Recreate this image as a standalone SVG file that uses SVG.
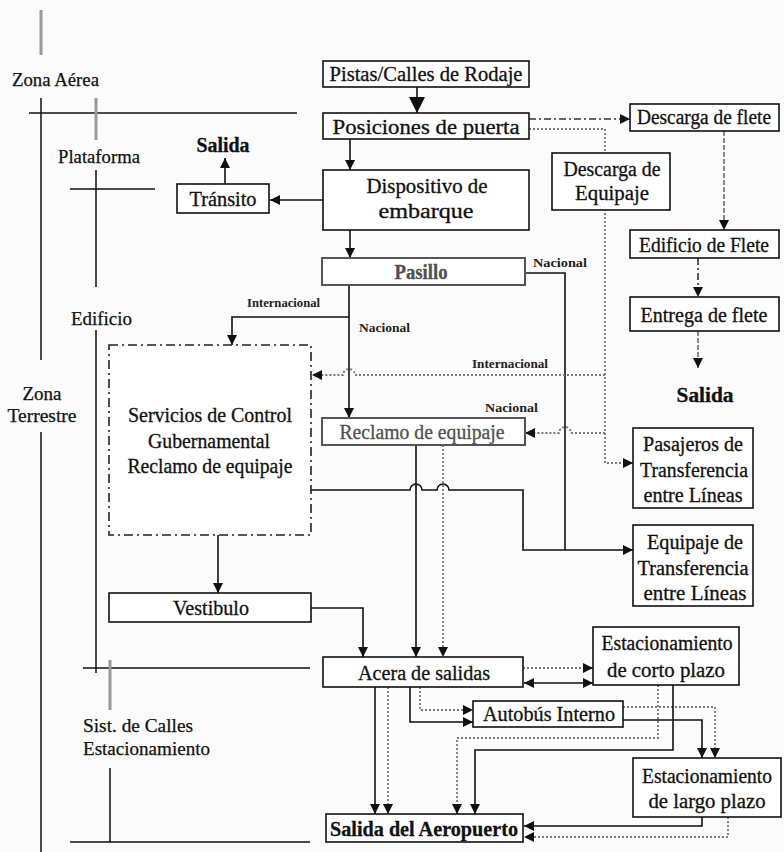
<svg xmlns="http://www.w3.org/2000/svg" width="784" height="852" viewBox="0 0 784 852">
<style>
.bg{fill:#fbfbfb}
.box{fill:#fff;stroke:#111;stroke-width:1.6}
.gbox{fill:#fff;stroke:#555;stroke-width:2}
.ddbox{fill:#fff;stroke:#222;stroke-width:1.6;stroke-dasharray:9 4 2 4}
.t{font-family:"Liberation Serif","Times New Roman",serif;font-size:20px;fill:#111;stroke:#111;stroke-width:0.3;text-anchor:middle}
.tg{fill:#505050;stroke:#505050}
.b{font-weight:bold}
.lb{font-family:"Liberation Serif","Times New Roman",serif;font-size:19px;fill:#111;stroke:#111;stroke-width:0.25}
.sm{font-family:"Liberation Serif","Times New Roman",serif;font-size:13px;font-weight:bold;fill:#222}
.ln{fill:none;stroke:#111;stroke-width:1.6}
.dot{fill:none;stroke:#777;stroke-width:1.8;stroke-dasharray:2 2}
.dd{fill:none;stroke:#333;stroke-width:1.6;stroke-dasharray:7 3 2 3}
.dg{fill:none;stroke:#888;stroke-width:2;stroke-dasharray:5 2}
.zn{stroke:#111;stroke-width:1.5}
.zg{stroke:#999;stroke-width:3}
</style>
<defs>
<marker id="a" viewBox="0 0 10 10" refX="10" refY="5" markerWidth="10" markerHeight="10" markerUnits="userSpaceOnUse" orient="auto-start-reverse"><path d="M0,0 L10,5 L0,10 z" fill="#111"/></marker>
<marker id="A" viewBox="0 0 10 10" refX="10" refY="5" markerWidth="16" markerHeight="16" markerUnits="userSpaceOnUse" orient="auto"><path d="M0,0 L10,5 L0,10 z" fill="#111"/></marker>
</defs>
<rect class="bg" x="0" y="0" width="784" height="852"/>
<g id="zones">
<line class="zg" x1="41" y1="10" x2="41" y2="55"/>
<line class="zn" x1="41" y1="98" x2="41" y2="360"/>
<line class="zn" x1="41" y1="432" x2="41" y2="852"/>
<line class="zn" x1="29" y1="113" x2="297" y2="113"/>
<line class="zg" x1="96" y1="98" x2="96" y2="140"/>
<line class="zn" x1="96" y1="170" x2="96" y2="287"/>
<line class="zn" x1="70" y1="189" x2="155" y2="189"/>
<line class="zn" x1="96" y1="330" x2="96" y2="673"/>
<line class="zn" x1="83" y1="668" x2="310" y2="668"/>
<line class="zg" x1="110" y1="660" x2="110" y2="710"/>
<line class="zn" x1="110" y1="768" x2="110" y2="842"/>
<line class="zn" x1="70" y1="842" x2="310" y2="842"/>
<text class="lb" x="12" y="86" textLength="87" lengthAdjust="spacingAndGlyphs">Zona Aérea</text>
<text class="lb" x="58" y="163" textLength="82" lengthAdjust="spacingAndGlyphs">Plataforma</text>
<text class="lb" x="71" y="325" textLength="61" lengthAdjust="spacingAndGlyphs">Edificio</text>
<text class="lb" x="42" y="400" text-anchor="middle">Zona</text>
<text class="lb" x="42" y="422" text-anchor="middle" textLength="69" lengthAdjust="spacingAndGlyphs">Terrestre</text>
<text class="lb" x="83" y="732" textLength="110" lengthAdjust="spacingAndGlyphs">Sist. de Calles</text>
<text class="lb" x="83" y="755" textLength="127" lengthAdjust="spacingAndGlyphs">Estacionamiento</text>
</g>
<g id="connectors">
<line class="ln" x1="417" y1="87" x2="417" y2="113" marker-end="url(#A)"/>
<line class="ln" x1="350" y1="139" x2="350" y2="170" marker-end="url(#a)"/>
<line class="ln" x1="323" y1="200" x2="270" y2="200" marker-end="url(#a)"/>
<line class="ln" x1="225" y1="184" x2="225" y2="158" marker-end="url(#a)"/>
<line class="ln" x1="350" y1="230" x2="350" y2="258" marker-end="url(#a)"/>
<line class="ln" x1="349" y1="285" x2="349" y2="418" marker-end="url(#a)"/>
<path class="ln" d="M349,317 H232 V345" marker-end="url(#a)"/>
<path class="ln" d="M525,273 H565 V550"/>
<path class="ln" d="M311,490 H410 A6,6 0 0 1 422,490 H437 A6,6 0 0 1 449,490 H523 V550 H633" marker-end="url(#a)"/>
<line class="ln" x1="416" y1="445" x2="416" y2="657" marker-end="url(#a)"/>
<line class="dot" x1="443" y1="445" x2="443" y2="657" marker-end="url(#a)"/>
<line class="ln" x1="218" y1="535" x2="218" y2="593" marker-end="url(#a)"/>
<path class="ln" d="M311,608 H363 V657" marker-end="url(#a)"/>
<line class="dd" x1="529" y1="119" x2="630" y2="119" marker-end="url(#a)"/>
<path class="dot" d="M529,129 H605 V463 H633" marker-end="url(#a)"/>
<path class="dot" d="M605,375 H355 A6,6 0 0 0 343,375 H312" marker-end="url(#a)"/>
<path class="dot" d="M605,433 H571 A6,6 0 0 0 559,433 H525" marker-end="url(#a)"/>
<line class="dg" x1="724" y1="131" x2="724" y2="230" marker-end="url(#a)"/>
<line class="dd" x1="698" y1="258" x2="698" y2="297" marker-end="url(#a)"/>
<line class="dg" x1="698" y1="331" x2="698" y2="368" marker-end="url(#a)"/>
<line class="dot" x1="523" y1="668" x2="593" y2="668" marker-end="url(#a)"/>
<line class="ln" x1="524" y1="683" x2="593" y2="683" marker-start="url(#a)" marker-end="url(#a)"/>
<line class="ln" x1="375" y1="687" x2="375" y2="814" marker-end="url(#a)"/>
<line class="dot" x1="388" y1="687" x2="388" y2="814" marker-end="url(#a)"/>
<path class="ln" d="M410,687 V722 H473" marker-end="url(#a)"/>
<path class="dot" d="M420,687 V710 H473" marker-end="url(#a)"/>
<path class="dot" d="M623,707 H715 V758" marker-end="url(#a)"/>
<path class="ln" d="M623,720 H702 V758" marker-end="url(#a)"/>
<path class="dot" d="M658,685 V738 H457 V814" marker-end="url(#a)"/>
<path class="ln" d="M673,685 V750 H475 V814" marker-end="url(#a)"/>
<path class="ln" d="M702,817 V826 H524" marker-end="url(#a)"/>
<path class="dot" d="M728,817 V837 H524" marker-end="url(#a)"/>
<text class="sm" x="533" y="267" textLength="54" lengthAdjust="spacingAndGlyphs">Nacional</text>
<text class="sm" x="247" y="307" textLength="73" lengthAdjust="spacingAndGlyphs">Internacional</text>
<text class="sm" x="359" y="332" textLength="51" lengthAdjust="spacingAndGlyphs">Nacional</text>
<text class="sm" x="472" y="368" textLength="76" lengthAdjust="spacingAndGlyphs">Internacional</text>
<text class="sm" x="485" y="412" textLength="53" lengthAdjust="spacingAndGlyphs">Nacional</text>
</g>
<g id="pistas"><rect class="box" x="323" y="61" width="206" height="26"/><text class="t" x="426" y="81" textLength="193" lengthAdjust="spacingAndGlyphs">Pistas/Calles de Rodaje</text></g>
<g id="posiciones"><rect class="box" x="323" y="113" width="206" height="26"/><text class="t" x="426" y="134" textLength="187" lengthAdjust="spacingAndGlyphs">Posiciones de puerta</text></g>
<g id="dispositivo"><rect class="box" x="323" y="170" width="206" height="60"/><text class="t" x="427" y="193" textLength="121" lengthAdjust="spacingAndGlyphs">Dispositivo de</text><text class="t" x="426" y="218" textLength="95" lengthAdjust="spacingAndGlyphs">embarque</text></g>
<g id="transito"><rect class="box" x="177" y="184" width="92" height="29"/><text class="t" x="223" y="206" textLength="67" lengthAdjust="spacingAndGlyphs">Tránsito</text></g>
<g id="salida1"><text class="t b" x="223" y="152" textLength="53" lengthAdjust="spacingAndGlyphs">Salida</text></g>
<g id="pasillo"><rect class="gbox" x="322" y="258" width="203" height="27"/><text class="t tg b" x="421" y="279" textLength="53" lengthAdjust="spacingAndGlyphs">Pasillo</text></g>
<g id="servicios"><rect class="ddbox" x="109" y="345" width="202" height="190"/><text class="t" x="210" y="422" textLength="164" lengthAdjust="spacingAndGlyphs">Servicios de Control</text><text class="t" x="209" y="448" textLength="122" lengthAdjust="spacingAndGlyphs">Gubernamental</text><text class="t" x="210" y="473" textLength="165" lengthAdjust="spacingAndGlyphs">Reclamo de equipaje</text></g>
<g id="reclamo"><rect class="gbox" x="322" y="418" width="203" height="27"/><text class="t tg" x="422" y="439" textLength="165" lengthAdjust="spacingAndGlyphs">Reclamo de equipaje</text></g>
<g id="vestibulo"><rect class="box" x="109" y="593" width="202" height="29"/><text class="t" x="211" y="615" textLength="76" lengthAdjust="spacingAndGlyphs">Vestibulo</text></g>
<g id="descarga-flete"><rect class="box" x="630" y="104" width="149" height="27"/><text class="t" x="704" y="124" textLength="134" lengthAdjust="spacingAndGlyphs">Descarga de flete</text></g>
<g id="descarga-equipaje"><rect class="box" x="552" y="153" width="118" height="57"/><text class="t" x="612" y="176" textLength="97" lengthAdjust="spacingAndGlyphs">Descarga de</text><text class="t" x="612" y="200" textLength="74" lengthAdjust="spacingAndGlyphs">Equipaje</text></g>
<g id="edificio-flete"><rect class="box" x="630" y="230" width="149" height="28"/><text class="t" x="704" y="252" textLength="130" lengthAdjust="spacingAndGlyphs">Edificio de Flete</text></g>
<g id="entrega-flete"><rect class="box" x="630" y="297" width="149" height="34"/><text class="t" x="704" y="322" textLength="127" lengthAdjust="spacingAndGlyphs">Entrega de flete</text></g>
<g id="salida2"><text class="t b" x="705" y="402" textLength="57" lengthAdjust="spacingAndGlyphs">Salida</text></g>
<g id="pasajeros"><rect class="box" x="633" y="428" width="120" height="80"/><text class="t" x="693" y="451" textLength="100" lengthAdjust="spacingAndGlyphs">Pasajeros de</text><text class="t" x="694" y="477" textLength="108" lengthAdjust="spacingAndGlyphs">Transferencia</text><text class="t" x="693" y="502" textLength="99" lengthAdjust="spacingAndGlyphs">entre Líneas</text></g>
<g id="equipaje-transf"><rect class="box" x="633" y="525" width="120" height="81"/><text class="t" x="695" y="549" textLength="96" lengthAdjust="spacingAndGlyphs">Equipaje de</text><text class="t" x="693" y="575" textLength="111" lengthAdjust="spacingAndGlyphs">Transferencia</text><text class="t" x="695" y="600" textLength="103" lengthAdjust="spacingAndGlyphs">entre Líneas</text></g>
<g id="acera"><rect class="box" x="323" y="657" width="200" height="30"/><text class="t" x="424" y="680" textLength="132" lengthAdjust="spacingAndGlyphs">Acera de salidas</text></g>
<g id="corto"><rect class="box" x="593" y="627" width="146" height="58"/><text class="t" x="667" y="650" textLength="131" lengthAdjust="spacingAndGlyphs">Estacionamiento</text><text class="t" x="666" y="677" textLength="118" lengthAdjust="spacingAndGlyphs">de corto plazo</text></g>
<g id="autobus"><rect class="box" x="473" y="701" width="150" height="26"/><text class="t" x="549" y="721" textLength="132" lengthAdjust="spacingAndGlyphs">Autobús Interno</text></g>
<g id="largo"><rect class="box" x="633" y="758" width="148" height="59"/><text class="t" x="707" y="783" textLength="130" lengthAdjust="spacingAndGlyphs">Estacionamiento</text><text class="t" x="707" y="808" textLength="117" lengthAdjust="spacingAndGlyphs">de largo plazo</text></g>
<g id="salida-aeropuerto"><rect class="box" x="326" y="814" width="197" height="28"/><text class="t b" x="424" y="836" textLength="188" lengthAdjust="spacingAndGlyphs">Salida del Aeropuerto</text></g>
</svg>
